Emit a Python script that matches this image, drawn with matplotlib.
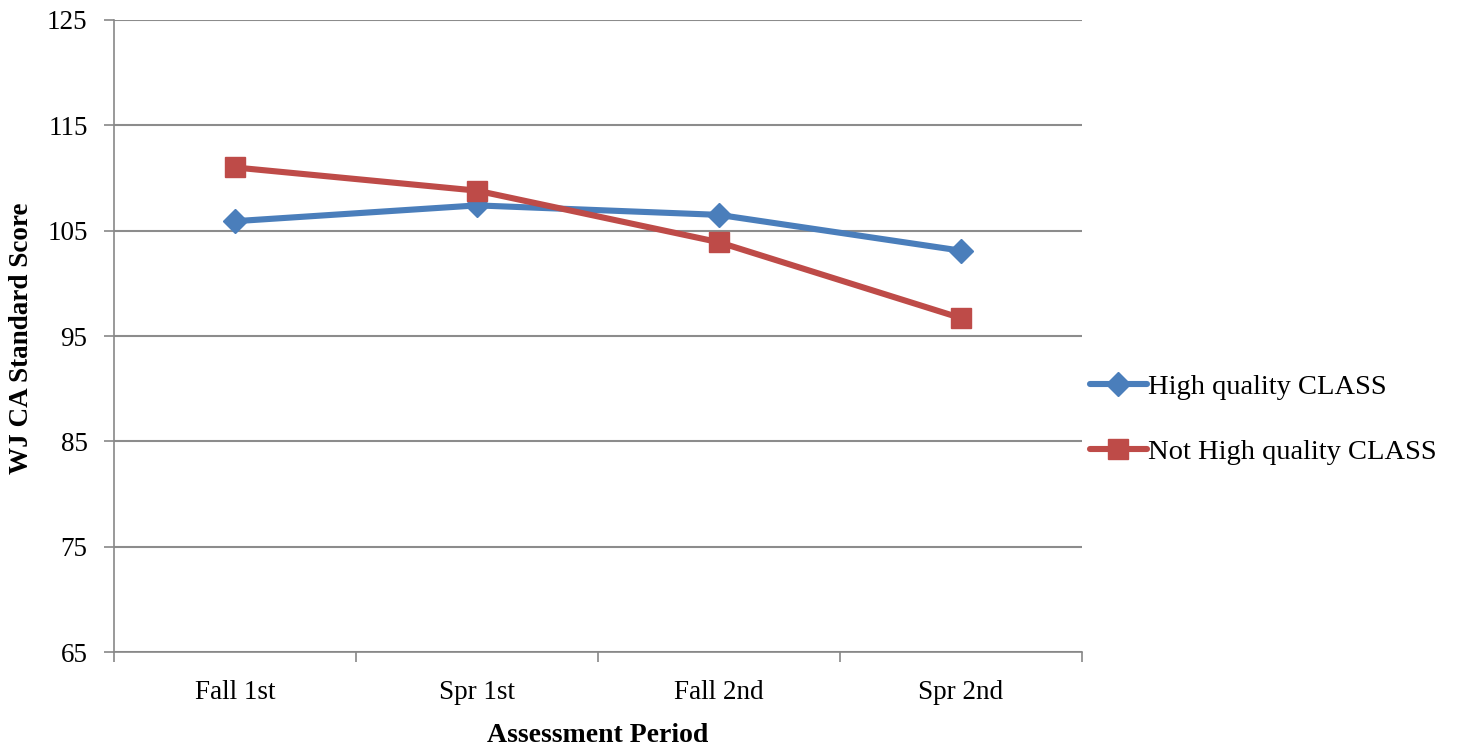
import matplotlib
matplotlib.use("Agg")
import matplotlib.pyplot as plt
import numpy as np

categories = ["Fall 1st", "Spr 1st", "Fall 2nd", "Spr 2nd"]
high_quality = [105.9, 107.4, 106.5, 103.1]
not_high_quality = [111.0, 108.8, 103.9, 96.7]
y_ticks = [65, 75, 85, 95, 105, 115, 125]

plt.rcParams['font.family'] = ['Liberation Serif', 'DejaVu Serif']

fig = plt.figure(figsize=(14.61, 7.5), dpi=100)
ax = fig.add_axes([114/1461, 1-652/750, (1082-114)/1461, (652-20)/750])

x = np.arange(len(categories)) + 0.5
ax.plot(x, high_quality, color='#4A7EBB', lw=4.4, marker='D', markersize=12,
        label='High quality CLASS', solid_joinstyle='round', solid_capstyle='round')
ax.plot(x, not_high_quality, color='#BE4B48', lw=4.4, marker='s', markersize=14,
        label='Not High quality CLASS', solid_joinstyle='round', solid_capstyle='round')

ax.set_xlim(0, len(categories))
ax.set_ylim(65, 125)
ax.set_yticks(y_ticks)
ax.set_yticklabels([str(v) for v in y_ticks], fontsize=19.5)
ax.set_xticks(np.arange(len(categories) + 1))
ax.set_xticklabels([])
ax.set_xticks(x, minor=True)
ax.set_xticklabels(categories, minor=True, fontsize=19.5)
ax.tick_params(axis='x', which='minor', length=0, pad=20)
ax.tick_params(axis='x', which='major', length=7, color='#888888', width=1.2)
ax.tick_params(axis='y', length=7, color='#888888', width=1.2, pad=12)

ax.grid(axis='y', color='#8c8c8c', lw=1.5)
ax.set_axisbelow(True)
for s in ['top', 'right']:
    ax.spines[s].set_visible(False)
for s in ['left', 'bottom']:
    ax.spines[s].set_color('#888888')
    ax.spines[s].set_linewidth(1.2)

fig.text(22/1461, 1-338/750, 'WJ CA Standard Score', fontsize=19.5, fontweight='bold',
         rotation=90, ha='center', va='center')
fig.text(598/1461, 1-735/750, 'Assessment Period', fontsize=20, fontweight='bold',
         ha='center', va='center')

leg = ax.legend(loc='center left', bbox_to_anchor=(1.008, 0.368), frameon=False,
                fontsize=20.5, handlelength=2.0, handletextpad=0.05, labelspacing=1.35,
                borderaxespad=0, borderpad=0)

fig.savefig('out.png', dpi=100)
